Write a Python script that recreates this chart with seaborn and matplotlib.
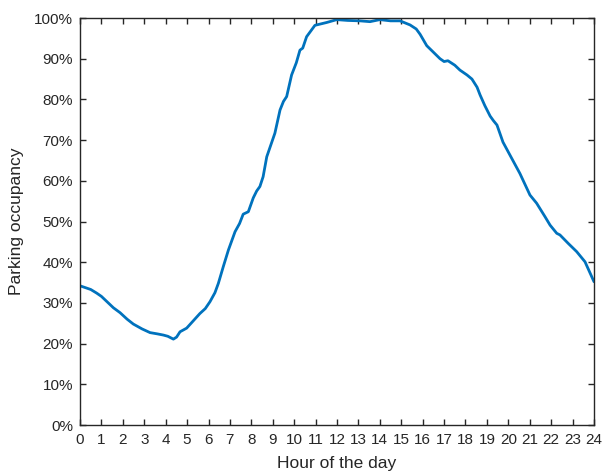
import matplotlib
matplotlib.use("Agg")
import matplotlib.pyplot as plt
import seaborn as sns
import pandas as pd
from matplotlib.ticker import FuncFormatter

hours = [0, 0.5, 0.78, 1.0, 1.56, 1.87, 2.2, 2.49, 2.9, 3.27, 3.6, 3.89, 4.1,
         4.36, 4.51, 4.67, 4.98, 5.29, 5.6, 5.85, 6.07, 6.3, 6.46, 6.69, 6.93,
         7.24, 7.45, 7.62, 7.86, 8.09, 8.25, 8.4, 8.55, 8.72, 9.1, 9.34, 9.5,
         9.65, 9.88, 10.1, 10.27, 10.4, 10.58, 10.97, 11.52, 11.99, 12.5, 13.07,
         13.54, 14.0, 14.5, 14.94, 15.41, 15.7, 15.88, 16.19, 16.5, 16.81, 17.0,
         17.18, 17.5, 17.74, 18.07, 18.3, 18.54, 18.68, 18.9, 19.15, 19.3, 19.47,
         19.75, 20.16, 20.54, 21.01, 21.32, 21.71, 21.95, 22.26, 22.41, 22.8,
         23.19, 23.58, 24.0]
occupancy = [34.2, 33.3, 32.4, 31.6, 28.8, 27.6, 26.0, 24.8, 23.6, 22.7, 22.4,
             22.1, 21.8, 21.1, 21.6, 22.9, 23.8, 25.6, 27.4, 28.6, 30.3, 32.5,
             34.8, 38.9, 43.0, 47.5, 49.5, 51.8, 52.4, 55.8, 57.5, 58.6, 61.0,
             65.9, 71.7, 77.4, 79.5, 80.7, 86.0, 89.0, 92.1, 92.6, 95.4, 98.2,
             98.9, 99.6, 99.4, 99.3, 99.1, 99.6, 99.3, 99.3, 98.3, 97.3, 96.0,
             93.2, 91.6, 90.0, 89.3, 89.5, 88.4, 87.2, 86.0, 85.0, 83.0, 81.1,
             78.5, 75.9, 74.8, 73.7, 69.5, 65.5, 61.8, 56.5, 54.5, 51.2, 49.1,
             47.1, 46.7, 44.6, 42.6, 40.1, 35.2]
x_ticks = list(range(0, 25))
y_ticks = list(range(0, 101, 10))

sns.set_style("white")
plt.rcParams['font.family'] = ['Liberation Sans', 'DejaVu Sans']

df = pd.DataFrame({"hour": hours, "occ": occupancy})

fig = plt.figure(figsize=(6.02, 4.73), dpi=100)
ax = fig.add_axes([80/602, 48/473, 514/602, 407/473])
sns.lineplot(data=df, x="hour", y="occ", ax=ax, color="#0072BD", linewidth=2.0)

ax.set_xlim(0, 24)
ax.set_ylim(0, 100)
ax.set_xticks(x_ticks)
ax.set_yticks(y_ticks)
ax.yaxis.set_major_formatter(FuncFormatter(lambda v, p: f"{int(v)}%"))
ax.tick_params(direction="in", length=4, width=1.0, color="#262626",
               labelsize=11, labelcolor="#262626", top=True, right=True,
               bottom=True, left=True)
ax.tick_params(axis="x", pad=6)
ax.tick_params(axis="y", pad=5)
for s in ax.spines.values():
    s.set_color("#262626")
    s.set_linewidth(1.0)
    s.set_visible(True)
ax.set_xlabel("Hour of the day", fontsize=12.5, color="#262626", labelpad=6)
ax.set_ylabel("Parking occupancy", fontsize=12.5, color="#262626", labelpad=7)
ax.grid(False)

fig.savefig("out.png", dpi=100)
